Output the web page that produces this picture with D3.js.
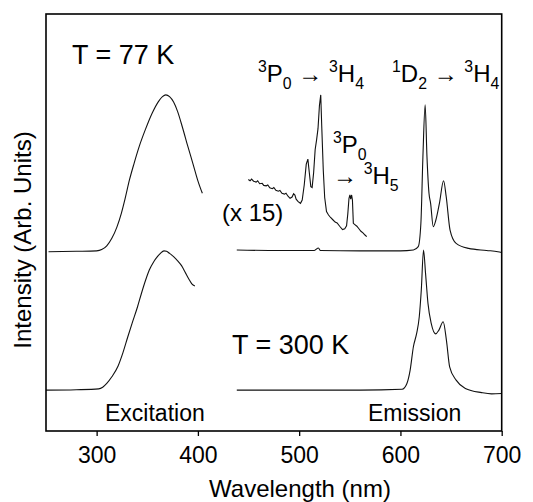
<!DOCTYPE html>
<html><head><meta charset="utf-8">
<script src="https://cdn.jsdelivr.net/npm/d3@7"></script>
<style>
body{margin:0;background:#fff}
svg{display:block}
text{font-family:"Liberation Sans",Arial,Helvetica,sans-serif;fill:#000}
</style>
</head><body>
<svg id="chart" width="533" height="502"></svg>
<script>
// ---- data (wavelength nm, intensity arb. units incl. vertical offset) ----
const xTicks = [300, 400, 500, 600, 700];

const excitation77 = [[252.5,43.0],[280,43.1],[300,43.2],[305,43.5],[310,44.4],[315,46.2],[320,48.9],[324.4,52.2],[328,55.6],[332.4,60.2],[337,64.2],[342,68.2],[348,72.2],[354.8,76.2],[361,79.0],[365,80.2],[368.3,80.6],[372,80.2],[376,78.9],[380,76.6],[385,72.6],[390,68.3],[395,64.2],[400,60.0],[404.4,57.0]];

const excitation300 = [[250,9.8],[280,9.9],[302,10.1],[306,10.5],[310,11.4],[315,13.0],[321.2,15.6],[326,18.8],[330.8,22.6],[335,25.8],[340.4,29.8],[344,32.8],[348.4,36.2],[352,38.6],[356.4,40.6],[360,41.8],[363,42.6],[366.5,43.2],[369,43.1],[372,42.6],[376,41.8],[380,40.8],[384,39.6],[388,37.8],[391.6,36.2],[394,35.3],[397,34.8]];

const emission77 = [[438.4,43.4],[470,43.3],[515,43.3],[519,43.9],[521,43.3],[560,43.2],[600,43.2],[612.8,43.4],[617.6,44.2],[620.2,49.8],[622.2,65.8],[624.4,78.2],[626.2,65.8],[628.2,57.0],[629.8,54.6],[632.4,49.0],[635,50.6],[638.5,54.6],[642.6,60.0],[645.2,56.2],[649,48.2],[655,45.0],[667.3,43.8],[685,43.3],[696.2,43.0],[700,42.8]];

const emission77x15 = [[449.8,60.3],[451.5,60.0],[453,60.4],[455,59.9],[457.5,59.7],[459,60.0],[461,59.3],[463.5,59.4],[465,58.9],[467.5,58.8],[469,59.0],[471,58.3],[473.5,58.1],[475,58.4],[477,57.7],[479.5,57.5],[481,57.7],[483,57.0],[485.5,56.8],[487,57.0],[489,56.3],[491,55.8],[493,56.1],[494.5,56.9],[495.8,56.6],[497,55.6],[499,55.0],[501.3,54.6],[503,55.4],[505,59],[507,64],[508.6,65.2],[510,62],[511.5,58.6],[512.8,58.4],[514.3,62],[515.8,67.5],[517.2,69.8],[518.6,72.5],[520,78],[521.3,80.6],[522.3,73],[523.8,62.6],[525.2,56],[527,52.6],[529,51.8],[531,51.2],[533.5,50.6],[535.5,50.1],[537.5,49.9],[540,49.1],[542.8,48.3],[545,48.5],[546.8,49.2],[548,52],[549.2,55.8],[550.1,56.6],[550.9,55.6],[551.8,56.6],[552.6,55.4],[553.5,49.8],[555,49.5],[557,49.1],[559,48.5],[561,47.9],[563,47.5],[565,47.0],[566.7,46.6]];

const emission300 = [[438.4,9.8],[500,9.8],[560,9.8],[601.6,10.0],[606.4,11.4],[609.6,14.6],[612.8,20.2],[616,23.4],[618.6,27.4],[620.6,33.8],[622.8,43.4],[624.8,37.8],[627.2,30.6],[630.4,25.8],[634.8,23.3],[638,24.2],[642.2,26.2],[645.4,21.8],[648.6,15.4],[655,12.2],[664.1,10.2],[680.1,9.2],[690,8.9],[700,9.0]];

// ---- layout ----
const svg = d3.select("#chart");
const L = 46, R = 501.7, T = 14, B = 431;
const x = d3.scaleLinear().domain([250, 700]).range([L, R]);
const y = d3.scaleLinear().domain([0, 100]).range([B, T]);

const smooth = d3.line().x(d => x(d[0])).y(d => y(d[1])).curve(d3.curveMonotoneX);
const jagged = d3.line().x(d => x(d[0])).y(d => y(d[1]));

[excitation77, excitation300, emission77, emission300].forEach(s =>
  svg.append("path").attr("d", smooth(s)).attr("fill", "none")
     .attr("stroke", "#111").attr("stroke-width", 1.1));
svg.append("path").attr("d", jagged(emission77x15)).attr("fill", "none")
   .attr("stroke", "#111").attr("stroke-width", 1.1);

// frame
svg.append("rect").attr("x", L).attr("y", T).attr("width", R - L).attr("height", B - T)
   .attr("fill", "none").attr("stroke", "#000").attr("stroke-width", 1.6);

// x axis
const ax = svg.append("g").attr("transform", `translate(0,${B})`)
  .call(d3.axisBottom(x).tickValues(xTicks).tickSize(5).tickPadding(11).tickFormat(d3.format("d")));
ax.select(".domain").remove();
ax.selectAll(".tick line").attr("stroke", "#000").attr("stroke-width", 1.3);
ax.selectAll(".tick text").style("font-size", "23px").style("font-family", "'Liberation Sans',Arial,sans-serif").attr("fill", "#000");

// axis titles
svg.append("text").attr("x", 300).attr("y", 497).attr("text-anchor", "middle")
   .style("font-size", "24px").text("Wavelength (nm)");
svg.append("text").attr("transform", "translate(31,240) rotate(-90)").attr("text-anchor", "middle")
   .style("font-size", "24px").text("Intensity (Arb. Units)");

// labels
function rich(xp, yp, parts, size) {
  const t = svg.append("text").attr("x", xp).attr("y", yp).style("font-size", size + "px");
  let shift = 0;
  parts.forEach(p => {
    const target = p[1] === "sup" ? -0.42 * size : p[1] === "sub" ? 0.28 * size : 0;
    const sp = t.append("tspan").attr("dy", target - shift).text(p[0]);
    if (p[1]) sp.style("font-size", (size * 0.66) + "px");
    shift = target;
  });
}
svg.append("text").attr("x", 72).attr("y", 64).style("font-size", "27px").text("T = 77 K");
svg.append("text").attr("x", 232).attr("y", 354).style("font-size", "27px").text("T = 300 K");
svg.append("text").attr("x", 105).attr("y", 421).style("font-size", "23px").text("Excitation");
svg.append("text").attr("x", 368).attr("y", 421).style("font-size", "23px").text("Emission");
svg.append("text").attr("x", 222).attr("y", 221).style("font-size", "24px").text("(x 15)");

rich(258, 82, [["3","sup"],["P"],["0","sub"],[" \u2192 "],["3","sup"],["H"],["4","sub"]], 24);
rich(392, 82, [["1","sup"],["D"],["2","sub"],[" \u2192 "],["3","sup"],["H"],["4","sub"]], 24);
rich(333, 153, [["3","sup"],["P"],["0","sub"]], 24);
rich(333, 184, [["\u2192 "],["3","sup"],["H"],["5","sub"]], 24);
</script>
</body></html>
